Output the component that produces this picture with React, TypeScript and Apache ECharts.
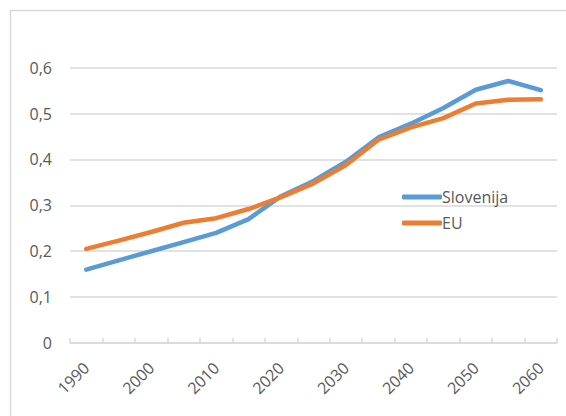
import React, { useEffect, useRef } from "react";
import * as echarts from "echarts";

const years = ["1990","1995","2000","2005","2010","2015","2020","2025","2030","2035","2040","2045","2050","2055","2060"];
const slovenija = [0.16,0.18,0.20,0.22,0.24,0.27,0.32,0.353,0.395,0.448,0.478,0.512,0.552,0.571,0.551];
const eu = [0.205,0.223,0.242,0.262,0.272,0.292,0.318,0.348,0.388,0.443,0.47,0.49,0.522,0.53,0.531];
const seriesNames = ["Slovenija","EU"];
const colors = ["#5B9BD5","#ED7D31"];

export default function App() {
  const ref = useRef<HTMLDivElement>(null);
  useEffect(() => {
    document.body.style.margin = "0";
    const chart = echarts.init(ref.current!, null, { renderer: "svg" });
    const font = "'Open Sans', 'Noto Sans', sans-serif";
    chart.setOption({
      animation: false,
      backgroundColor: "#ffffff",
      textStyle: { fontFamily: font },
      graphic: [
        {
          type: "rect",
          shape: { x: 10.5, y: 10.5, width: 700, height: 600 },
          style: { fill: "none", stroke: "#d9d9d9", lineWidth: 1.5 },
          silent: true,
        },
      ],
      grid: { left: 70, right: 9, top: 67.7, bottom: 73, containLabel: false },
      legend: {
        orient: "vertical",
        left: 397,
        top: 184,
        itemWidth: 40,
        itemHeight: 5,
        itemGap: 10,
        icon: "roundRect",
        data: seriesNames,
        textStyle: { color: "#595959", fontSize: 16, fontFamily: font, padding: [0, 0, 0, -5] },
      },
      xAxis: {
        type: "category",
        data: years,
        boundaryGap: true,
        axisLine: { lineStyle: { color: "#d9d9d9", width: 1.5 } },
        axisTick: { show: true, inside: true, length: 5, interval: 0, lineStyle: { color: "#d9d9d9", width: 1.5 } },
        axisLabel: { interval: 1, rotate: 45, margin: 22, color: "#595959", fontSize: 16, fontFamily: font },
        splitLine: { show: false },
      },
      yAxis: {
        type: "value",
        min: 0,
        max: 0.6,
        interval: 0.1,
        axisLine: { show: false },
        axisTick: { show: false },
        axisLabel: {
          margin: 18,
          color: "#595959",
          fontSize: 16,
          fontFamily: font,
          formatter: (v: number) => (Math.round(v * 10) / 10).toString().replace(".", ","),
        },
        splitLine: { lineStyle: { color: "#d9d9d9", width: 1.5 } },
      },
      series: [
        {
          name: seriesNames[0],
          type: "line",
          data: slovenija,
          showSymbol: false,
          symbol: "none",
          color: colors[0],
          lineStyle: { width: 4.5, color: colors[0], cap: "round", join: "round" },
        },
        {
          name: seriesNames[1],
          type: "line",
          data: eu,
          showSymbol: false,
          symbol: "none",
          color: colors[1],
          lineStyle: { width: 4.5, color: colors[1], cap: "round", join: "round" },
        },
      ],
    });
    return () => chart.dispose();
  }, []);
  return <div ref={ref} style={{ width: 566, height: 416 }} />;
}
